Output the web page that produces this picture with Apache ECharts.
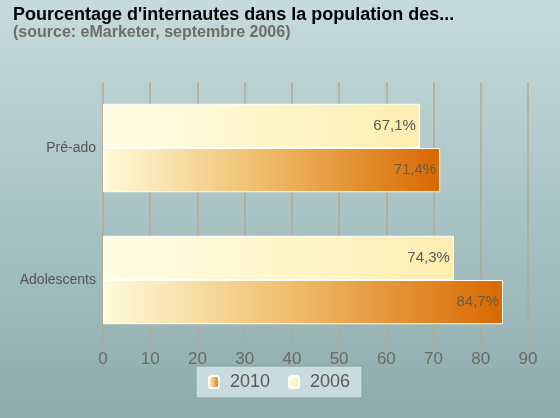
<!DOCTYPE html>
<html><head><meta charset="utf-8">
<script src="https://cdn.jsdelivr.net/npm/echarts@6/dist/echarts.min.js"></script>
<style>html,body{margin:0;padding:0;}#c{width:560px;height:418px;}</style>
</head><body><div id="c"></div>
<script>
var categories = ['Pré-ado', 'Adolescents'];
var values2006 = [67.1, 74.3];
var values2010 = [71.4, 84.7];
var xTicks = [0, 10, 20, 30, 40, 50, 60, 70, 80, 90];

var chart = echarts.init(document.getElementById('c'));
var fontFam = '"Liberation Sans", Arial, sans-serif';
function fmt(p){ return p.value.toFixed(1).replace('.', ',') + '%'; }
var grad2010 = new echarts.graphic.LinearGradient(0,0,1,0,[{offset:0,color:'#fffbdc'},{offset:0.45,color:'#f0c070'},{offset:1,color:'#d96800'}]);
var grad2006 = new echarts.graphic.LinearGradient(0,0,1,0,[{offset:0,color:'#fffde6'},{offset:1,color:'#fdeeb0'}]);
chart.setOption({
  backgroundColor: new echarts.graphic.LinearGradient(0,0,0,1,[{offset:0,color:'#c6dbdc'},{offset:1,color:'#8eacac'}]),
  animation:false,
  title: {
    text: "Pourcentage d'internautes dans la population des...",
    subtext: '(source: eMarketer, septembre 2006)',
    left: 8, top: 1, itemGap: 1,
    textStyle:{fontFamily:fontFam, fontSize:18, fontWeight:'bold', color:'#000'},
    subtextStyle:{fontFamily:fontFam, fontSize:16, fontWeight:'bold', color:'#6e6e66'}
  },
  legend: {
    data:['2010','2006'], bottom: 20, left: 196,
    backgroundColor:'#c8dcdd', borderColor:'#8a9a9a', borderWidth:1,
    padding:[7,12,7,12], itemWidth:10, itemHeight:12, itemGap:18,
    textStyle:{fontFamily:fontFam, fontSize:18, color:'#5a5a55', padding:[0,0,0,6]}
  },
  grid: {left:103, right:32, top:82, bottom:72},
  xAxis: {
    type:'value', min:0, max:90, interval:10,
    axisLine:{show:false}, axisTick:{show:false},
    splitLine:{lineStyle:{color:'#b3a996', width:1.5}},
    axisLabel:{fontFamily:fontFam, fontSize:17, color:'#6a6a60', margin:5}
  },
  yAxis: {
    type:'category', data:categories, inverse:true,
    axisLine:{show:false}, axisTick:{show:false},
    axisLabel:{fontFamily:fontFam, fontSize:14, color:'#555550', margin:7}
  },
  series: [
    {name:'2006', type:'bar', data:values2006, barGap:'0%', barCategoryGap:'33%',
     itemStyle:{color:grad2006, borderColor:'#ffffff', borderWidth:1},
     label:{show:true, position:'insideRight', distance:4, formatter:fmt, fontFamily:fontFam, fontSize:15, color:'#5a5a55'}},
    {name:'2010', type:'bar', data:values2010,
     itemStyle:{color:grad2010, borderColor:'#ffffff', borderWidth:1},
     label:{show:true, position:'insideRight', distance:4, formatter:fmt, fontFamily:fontFam, fontSize:15, color:'#6a5a45'}}
  ]
});
</script></body></html>
